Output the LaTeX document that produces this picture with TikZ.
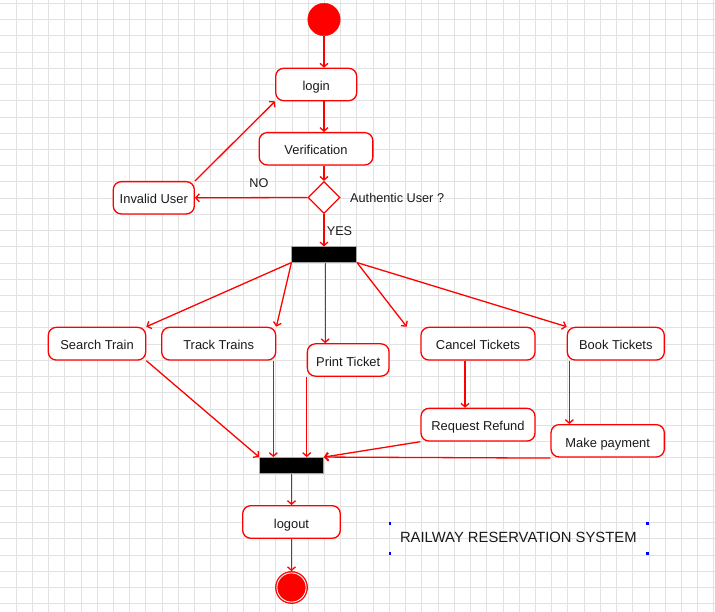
\documentclass[tikz,border=0pt]{standalone}
\usepackage{fontspec}
\setmainfont{Liberation Sans}
\usetikzlibrary{shapes.geometric,arrows.meta}
\definecolor{ured}{HTML}{FF0000}
\definecolor{gridc}{HTML}{E2E2E2}
\definecolor{txt}{HTML}{1A1A1A}
\begin{document}
\begin{tikzpicture}[x=1pt,y=-1pt,
  act/.style={draw=ured, line width=1.3pt, fill=white, rounded corners=8pt, inner sep=0pt,
    font=\fontsize{12.9}{15}\selectfont, text=txt, text height=12.4pt, text depth=0pt},
  flow/.style={draw=ured, line width=1.3pt, -{Straight Barb[length=3.5pt,width=8pt]}},
  syncbar/.style={fill=black, draw=gray!70, line width=0.5pt, inner sep=0pt},
  lbl/.style={font=\fontsize{12.7}{15}\selectfont, text=txt, inner sep=0pt},
  gridline/.style={draw=gridc, line width=0.8pt}
]
\useasboundingbox (0,0) rectangle (715,612);
\fill[white] (0,0) rectangle (715,612);
% grid
\foreach \i in {0,...,43} \draw[gridline] ({16+16.23*\i},0) -- ({16+16.23*\i},612);
\foreach \j in {0,...,37} \draw[gridline] (0,{3.3+16.23*\j}) -- (715,{3.3+16.23*\j});

% nodes
\node[circle, fill=ured, draw=ured, minimum size=32.5pt, inner sep=0pt] (start) at (324,19.5) {};
\node[act, minimum width=81pt, minimum height=32.4pt] (login) at (316.2,84.5) {login};
\node[act, minimum width=113.7pt, minimum height=32.3pt] (verif) at (316,148.8) {Verification};
\node[diamond, draw=ured, fill=white, line width=1.3pt, minimum width=32pt, minimum height=32pt, inner sep=0pt] (dec) at (324,197.5) {};
\node[act, minimum width=81pt, minimum height=32.3pt] (invalid) at (153.8,197.8) {Invalid User};
\node[syncbar, minimum width=65pt, minimum height=15.6pt] (fork) at (324.2,254.5) {};

\node[act, minimum width=97.4pt, minimum height=32.7pt] (search) at (97,343.7) {Search Train};
\node[act, minimum width=114pt, minimum height=32.7pt] (track) at (218.7,343.7) {Track Trains};
\node[act, minimum width=81.7pt, minimum height=32.3pt] (print) at (348.2,360) {Print Ticket};
\node[act, minimum width=114pt, minimum height=32.7pt] (cancel) at (478,343.7) {Cancel Tickets};
\node[act, minimum width=97pt, minimum height=32.7pt] (book) at (615.8,343.7) {Book Tickets};
\node[act, minimum width=114pt, minimum height=32.7pt] (refund) at (478,424.7) {Request Refund};
\node[act, minimum width=113.3pt, minimum height=32.3pt] (payment) at (607.7,440.8) {Make payment};

\node[syncbar, minimum width=64.4pt, minimum height=16pt] (join) at (291.5,465.3) {};
\node[act, minimum width=97.6pt, minimum height=32.6pt] (logout) at (291.5,522) {logout};
\node[circle, fill=ured, draw=ured, line width=0.7pt, minimum size=32pt, inner sep=0pt] (endn) at (291.5,587.5) {};
\draw[white, line width=0.9pt] (endn.center) circle (14.6pt);

% labels
\node[lbl] (no) at (259,182.7) {NO};
\node[lbl] (yes) at (339.5,230.7) {YES};
\node[lbl, anchor=west] (auth) at (350,198.3) {Authentic User ?};
\node[font=\fontsize{14.8}{17}\selectfont, text=txt, inner sep=0pt] (title) at (518.3,537.5) {RAILWAY RESERVATION SYSTEM};
\foreach \x/\y in {390/523.3,647.3/523.3,390/553.3,647.3/553.3}
  \fill[blue] ({\x-1.2},{\y-1.2}) rectangle ({\x+1.2},{\y+1.2});

% connectors
\draw[flow] (start) -- (login.north -| start);
\draw[flow] (login.south -| start) -- (verif.north -| start);
\draw[flow] (verif.south -| start) -- (dec.north);
\draw[flow] (dec.west) -- (invalid.east);
\draw[flow] (invalid.north east) -- (login.south west);
\draw[flow] (dec.south) -- (fork.north -| dec);
\draw[flow] (fork.south west) -- (search.north east);
\draw[flow] (fork.south west) -- (track.north east);
\draw[flow] ([xshift=1pt]fork.south) -- ([xshift=1pt]fork.south |- print.north);
\coordinate (free) at (406.7,326.7);
\draw[flow] (fork.south east) -- (free);
\draw[flow] (fork.south east) -- (book.north west);
\draw[flow] (search.south east) -- (join.north west);
\draw[flow] ([xshift=-3pt]track.south east) -- ([xshift=-3pt]track.south east |- join.north);
\draw[flow] (print.south west) -- (print.south west |- join.north);
\draw[flow] ([xshift=-13pt]cancel.south) -- ([xshift=-13pt]cancel.south |- refund.north);
\draw[flow] ([xshift=2.7pt]book.south west) -- ([xshift=2.7pt]book.south west |- payment.north);
\draw[flow] (refund.south west) -- (join.north east);
\draw[flow] ([yshift=-0.5pt]payment.south west) -- (join.north east);
\draw[flow] (join.south) -- (logout.north);
\draw[flow] (logout.south) -- (endn.north);
\end{tikzpicture}
\end{document}
